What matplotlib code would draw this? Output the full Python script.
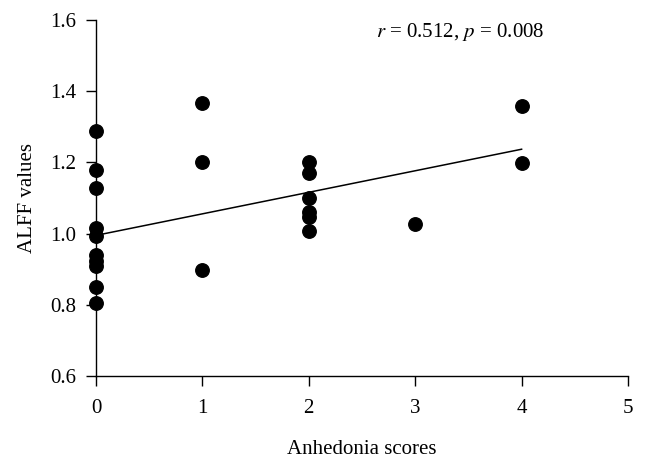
import numpy as np
import matplotlib.pyplot as plt

plt.rcParams['font.family'] = ['Liberation Serif', 'DejaVu Serif']

# anhedonia score and ALFF value per subject
scores = [0, 0, 0, 0, 0, 0, 0, 0, 0, 0,
          1, 1, 1,
          2, 2, 2, 2, 2, 2,
          3,
          4, 4]
alff = [1.287, 1.18, 1.129, 1.017, 0.994, 0.941, 0.924, 0.910, 0.851, 0.806,
        1.368, 1.20, 0.899,
        1.20, 1.171, 1.10, 1.06, 1.048, 1.008,
        1.027,
        1.358, 1.199]

# regression line as drawn in the figure
fit_intercept = 0.995
fit_slope = 0.0605

x_ticks = [0, 1, 2, 3, 4, 5]
y_ticks = [0.6, 0.8, 1.0, 1.2, 1.4, 1.6]
stats_label = '$r$ = 0.512, $p$ = 0.008'

x = np.array(scores, dtype=float)
y = np.array(alff)
xfit = np.array([x.min(), x.max()])

fig = plt.figure(figsize=(6.46, 4.63), dpi=100)
ax = fig.add_axes([96 / 646, 87 / 463, 532 / 646, 356 / 463])

ax.plot(x, y, 'o', color='black', ms=9.7, clip_on=False, zorder=3)
ax.plot(xfit, fit_slope * xfit + fit_intercept, color='black', lw=1.1)

ax.set_xlim(0, 5)
ax.set_ylim(0.6, 1.6)
ax.set_xticks(x_ticks)
ax.set_yticks(y_ticks)
ax.set_yticklabels(['%.1f' % v for v in y_ticks])
ax.spines['top'].set_visible(False)
ax.spines['right'].set_visible(False)
for s in ('left', 'bottom'):
    ax.spines[s].set_linewidth(1.0)
ax.tick_params(direction='out', length=7.5, width=1.0, labelsize=15)
ax.tick_params(axis='x', pad=9)
ax.tick_params(axis='y', pad=7)

ax.set_xlabel('Anhedonia scores', fontsize=15, labelpad=16)
ax.set_ylabel('ALFF values', fontsize=15, labelpad=9)
ax.text(3.42, 1.566, stats_label, ha='center', va='center', fontsize=15,
        math_fontfamily='stix')

fig.savefig('out.png', dpi=100)
